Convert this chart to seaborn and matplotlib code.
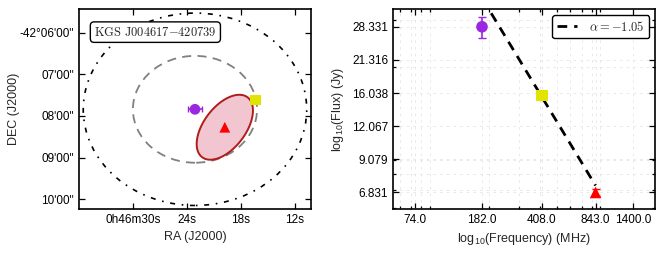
import numpy as np
import pandas as pd
import matplotlib
matplotlib.use("Agg")
import matplotlib.pyplot as plt
from matplotlib.patches import Ellipse
from matplotlib.ticker import NullFormatter
import seaborn as sns

# --- data ---
bands = ["182 MHz", "408 MHz", "843 MHz"]
freq_mhz = [182.0, 408.0, 843.0]
flux_jy = [28.331, 15.70, 6.831]
flux_err = [2.6, 0.3, 0.2]
colors = ["#9b27e0", "#e3e300", "#ff0000"]
markers = ["o", "s", "^"]

# positions (RA seconds after 0h46m, DEC arcmin below -42 deg)
ra_sec = [23.10, 16.33, 19.78]
dec_arcmin = [7.84, 7.62, 8.27]
ra_err = [0.78, 0.0, 0.0]
dec_deg = 42.13

# search circles round the 182 MHz source (radius in arcmin)
circle_radii = [1.28, 2.305]
# 843 MHz beam ellipse: semi-axes in arcmin, position angle in deg
beam_major = 0.86
beam_minor = 0.45
beam_pa = 150.0

# power-law fit
alpha = -1.05
fit_norm = 7.25  # Jy at 843 MHz

ra_ticks = [30, 24, 18, 12]
ra_labels = ["0h46m30s", "24s", "18s", "12s"]
dec_ticks = [6, 7, 8, 9, 10]
dec_labels = ["-42°06'00\"", "07'00\"", "08'00\"", "09'00\"", "10'00\""]
freq_ticks = [74.0, 182.0, 408.0, 843.0, 1400.0]
flux_ticks = [6.831, 9.079, 12.067, 16.038, 21.316, 28.331]

sns.set_style("ticks")
plt.rcParams["font.family"] = ["Liberation Sans", "DejaVu Sans"]
plt.rcParams["mathtext.fontset"] = "cm"
plt.rcParams["axes.linewidth"] = 1.2

df = pd.DataFrame({"band": bands, "freq": freq_mhz, "flux": flux_jy,
                   "ra": ra_sec, "dec": [-d for d in dec_arcmin]})

fig = plt.figure(figsize=(6.64, 2.54), dpi=100)
ax1 = fig.add_axes([0.119, 0.177, 0.349, 0.787])
ax2 = fig.add_axes([0.592, 0.177, 0.395, 0.787])

# ---------------- left: position plot ----------------
sec_per_arcmin = 4.0 / np.cos(np.radians(dec_deg))
cx, cy = ra_sec[0], -dec_arcmin[0]
ax1.add_patch(Ellipse((cx, cy), 2 * circle_radii[0] * sec_per_arcmin, 2 * circle_radii[0],
                      fill=False, ec="#808080", lw=1.3, ls=(0, (5, 3.5)), zorder=2))
ax1.add_patch(Ellipse((cx, cy), 2 * circle_radii[1] * sec_per_arcmin, 2 * circle_radii[1],
                      fill=False, ec="black", lw=1.2, ls=(0, (3, 4, 1, 4)), zorder=2))

phi = np.linspace(0, 2 * np.pi, 200)
pa = np.radians(beam_pa)
east = beam_major * np.cos(phi) * np.sin(pa) + beam_minor * np.sin(phi) * np.cos(pa)
north = beam_major * np.cos(phi) * np.cos(pa) - beam_minor * np.sin(phi) * np.sin(pa)
ax1.fill(ra_sec[2] + east * sec_per_arcmin, -dec_arcmin[2] + north,
         fc="#f2c6d0", ec="#b01c1c", lw=1.4, zorder=3)

for i in range(len(bands)):
    if ra_err[i] > 0:
        ax1.errorbar(ra_sec[i], -dec_arcmin[i], xerr=ra_err[i], fmt="none",
                     ecolor=colors[i], capsize=2.5, elinewidth=1.2, zorder=4)
sns.scatterplot(data=df, x="ra", y="dec", hue="band", style="band",
                palette=colors, markers=markers, s=60, edgecolor="none",
                legend=False, ax=ax1, zorder=5)

ax1.set_xlim(36.0, 10.22)
ax1.set_ylim(-10.23, -5.44)
ax1.set_xticks(ra_ticks)
ax1.set_xticklabels(ra_labels)
ax1.set_yticks([-d for d in dec_ticks])
ax1.set_yticklabels(dec_labels)
ax1.set_xlabel("RA (J2000)", fontsize=9)
ax1.set_ylabel("DEC (J2000)", fontsize=9, labelpad=0)
ax1.text(0.065, 0.885, r"$\mathrm{KGS\ J004617{-}420739}$", transform=ax1.transAxes,
         ha="left", va="center", fontsize=9,
         bbox=dict(boxstyle="round,pad=0.3", fc="white", ec="black", lw=1.0), zorder=6)

# ---------------- right: spectrum ----------------
ax2.set_xscale("log")
ax2.set_yscale("log")
ax2.grid(True, which="both", ls=(0, (3, 5)), color="#e4e4e4", lw=0.6, zorder=0)

nu = np.array([freq_mhz[0], freq_mhz[-1]])
fit = pd.DataFrame({"freq": nu, "flux": fit_norm * (nu / freq_mhz[-1]) ** alpha})
sns.lineplot(data=fit, x="freq", y="flux", color="black", lw=2, ls=(0, (3.5, 2.5)),
             label=r"$\alpha = -1.05$", ax=ax2, zorder=3)

for i in range(len(bands)):
    ax2.errorbar(freq_mhz[i], flux_jy[i], yerr=flux_err[i], fmt="none",
                 ecolor=colors[i], capsize=3, elinewidth=1.2, zorder=4)
sns.scatterplot(data=df, x="freq", y="flux", hue="band", style="band",
                palette=colors, markers=markers, s=70, edgecolor="none",
                legend=False, ax=ax2, zorder=5)

ax2.set_xlim(74.0 / 1.35, 1400.0 * 1.35)
ax2.set_ylim(5.925, 32.96)
ax2.set_xticks(freq_ticks)
ax2.set_xticklabels([f"{t:.1f}" for t in freq_ticks])
ax2.set_yticks(flux_ticks)
ax2.set_yticklabels([f"{t:.3f}" for t in flux_ticks])
ax2.xaxis.set_minor_formatter(NullFormatter())
ax2.yaxis.set_minor_formatter(NullFormatter())
ax2.set_xlabel(r"log$_{\mathregular{10}}$(Frequency) (MHz)", fontsize=9)
ax2.set_ylabel(r"log$_{\mathregular{10}}$(Flux) (Jy)", fontsize=9)
leg = ax2.legend(loc="upper right", fontsize=9, handlelength=1.6, handletextpad=1.0,
                 fancybox=True, framealpha=1, edgecolor="black", borderpad=0.35)
leg.get_frame().set_linewidth(1.0)

for ax in (ax1, ax2):
    ax.tick_params(which="both", direction="in", top=True, right=True,
                   labelsize=8.5, width=0.9, colors="black")
    ax.tick_params(which="major", length=4)
    ax.tick_params(which="minor", length=2)
    for sp in ax.spines.values():
        sp.set_color("black")

fig.savefig("out.png", dpi=100)
